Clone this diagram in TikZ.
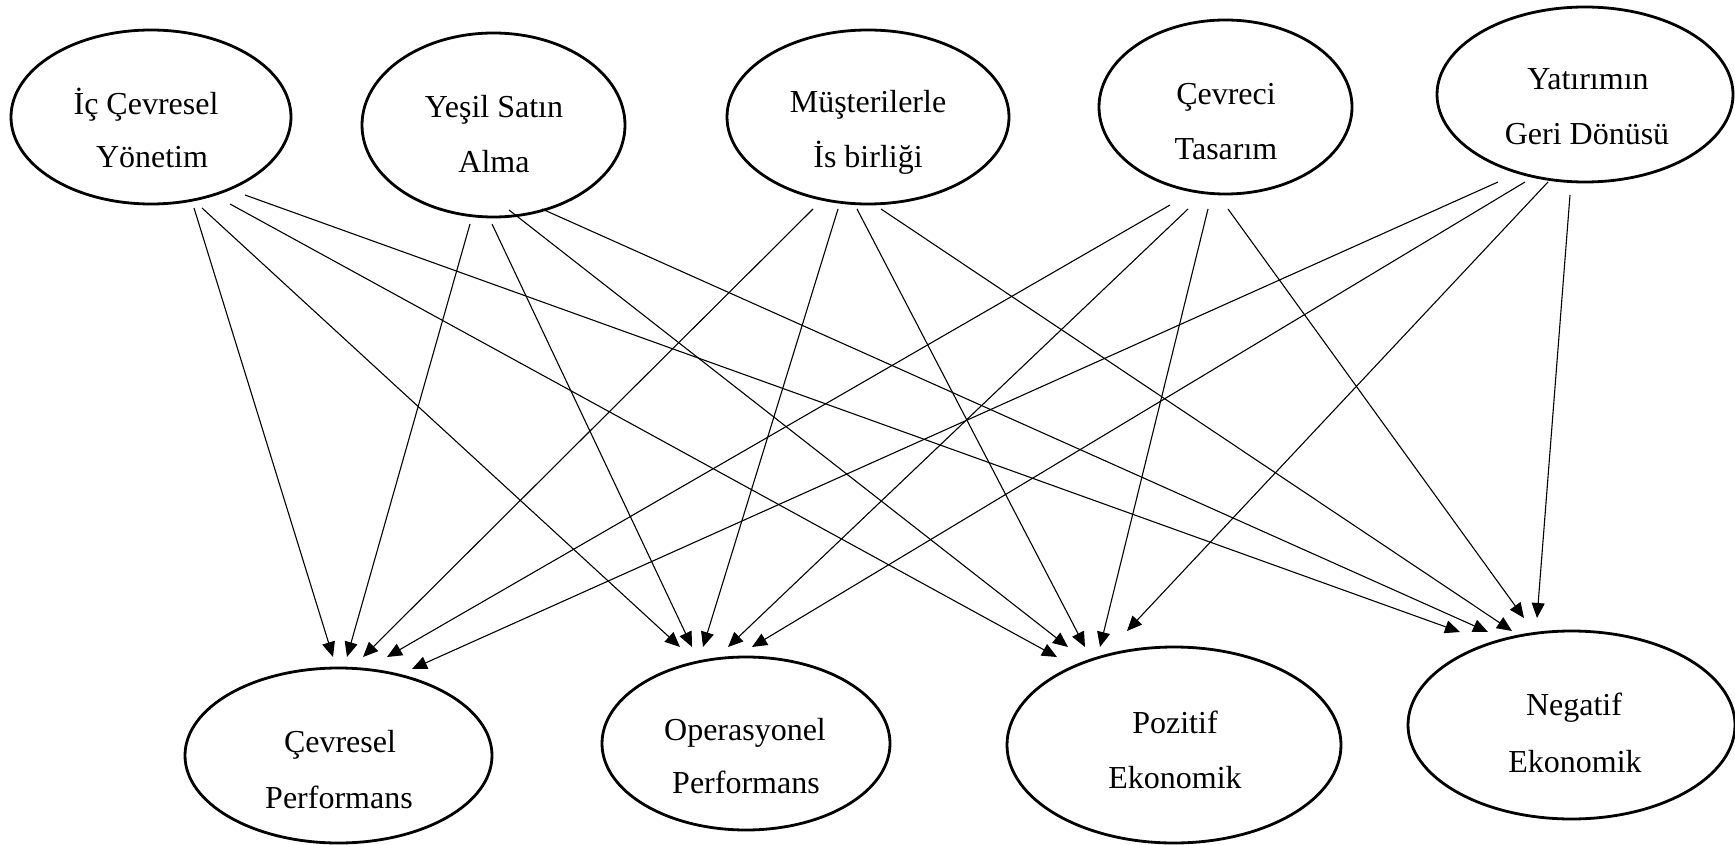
\documentclass[tikz,border=0pt]{standalone}
\usepackage{fontspec}
\setmainfont{Liberation Serif}
\usetikzlibrary{shapes.geometric,arrows.meta}

\tikzset{
  oval/.style={ellipse, draw, line width=2.8pt, inner sep=0pt},
  lbl/.style={anchor=base, inner sep=0pt, font=\fontsize{32}{38}\selectfont},
  link/.style={line width=1.1pt, -{Triangle[length=15pt,width=13pt]}}
}

\begin{document}
\begin{tikzpicture}[x=1pt, y=-1pt]
\useasboundingbox (0,0) rectangle (1735,845);

% ---- upper row: practices ----
\node[oval, minimum width=280, minimum height=174] (ic) at (151,117) {};
\node[lbl] (ic-a) at (146,115) {İç Çevresel};
\node[lbl] (ic-b) at (152,168) {Yönetim};

\node[oval, minimum width=263, minimum height=184] (ys) at (493.5,125) {};
\node[lbl] (ys-a) at (494,118) {Yeşil Satın};
\node[lbl] (ys-b) at (494,173) {Alma};

\node[oval, minimum width=282, minimum height=174] (mi) at (868,117) {};
\node[lbl] (mi-a) at (868,113) {Müşterilerle};
\node[lbl] (mi-b) at (868,168) {İs birliği};

\node[oval, minimum width=253, minimum height=174] (ct) at (1225.5,107) {};
\node[lbl] (ct-a) at (1226,105) {Çevreci};
\node[lbl] (ct-b) at (1226,160) {Tasarım};

\node[oval, minimum width=296, minimum height=175] (yg) at (1585,94.5) {};
\node[lbl] (yg-a) at (1588,90) {Yatırımın};
\node[lbl] (yg-b) at (1587,145) {Geri Dönüsü};

% ---- lower row: outcomes ----
\node[oval, minimum width=307, minimum height=175] (cp) at (338.5,755.5) {};
\node[lbl] (cp-a) at (340,752) {Çevresel};
\node[lbl] (cp-b) at (339,808) {Performans};

\node[oval, minimum width=288, minimum height=173] (op) at (746,743.5) {};
\node[lbl] (op-a) at (745,740) {Operasyonel};
\node[lbl] (op-b) at (746,793) {Performans};

\node[oval, minimum width=334, minimum height=196] (pe) at (1174,745) {};
\node[lbl] (pe-a) at (1175,733) {Pozitif};
\node[lbl] (pe-b) at (1175,788) {Ekonomik};

\node[oval, minimum width=327, minimum height=188] (ne) at (1571.5,725) {};
\node[lbl] (ne-a) at (1574,715) {Negatif};
\node[lbl] (ne-b) at (1575,772) {Ekonomik};

% ---- connector ends below the practices ----
\coordinate (ic1) at (194,208);  \coordinate (ic2) at (202,208);
\coordinate (ic3) at (230,204);  \coordinate (ic4) at (245,195);
\coordinate (ys1) at (470,224);  \coordinate (ys2) at (492,224);
\coordinate (ys3) at (509,210);  \coordinate (ys4) at (542,209);
\coordinate (mi1) at (813,209);  \coordinate (mi2) at (838,209);
\coordinate (mi3) at (857,209);  \coordinate (mi4) at (881,209);
\coordinate (ct1) at (1170,205); \coordinate (ct2) at (1188,209);
\coordinate (ct3) at (1208,209); \coordinate (ct4) at (1228,209);
\coordinate (yg1) at (1498,182); \coordinate (yg2) at (1525,182);
\coordinate (yg3) at (1548,182); \coordinate (yg4) at (1570,195);

% ---- arrow tips above the outcomes ----
\coordinate (cp1) at (333,657);  \coordinate (cp2) at (347,657);
\coordinate (cp3) at (363,657);  \coordinate (cp4) at (387,657);
\coordinate (cp5) at (412,669);
\coordinate (op1) at (680,647);  \coordinate (op2) at (692,647);
\coordinate (op3) at (703,647);  \coordinate (op4) at (728,647);
\coordinate (op5) at (752,647);
\coordinate (pe1) at (1057,657); \coordinate (pe2) at (1068,647);
\coordinate (pe3) at (1085,647); \coordinate (pe4) at (1100,647);
\coordinate (pe5) at (1127,631);
\coordinate (ne1) at (1460,632); \coordinate (ne2) at (1488,632);
\coordinate (ne3) at (1512,631); \coordinate (ne4) at (1524,618);
\coordinate (ne5) at (1537,618);

% ---- links ----
\draw[link] (ic1) -- (cp1);
\draw[link] (ic2) -- (op1);
\draw[link] (ic3) -- (pe1);
\draw[link] (ic4) -- (ne1);

\draw[link] (ys1) -- (cp2);
\draw[link] (ys2) -- (op2);
\draw[link] (ys3) -- (pe2);
\draw[link] (ys4) -- (ne2);

\draw[link] (mi1) -- (cp3);
\draw[link] (mi2) -- (op3);
\draw[link] (mi3) -- (pe3);
\draw[link] (mi4) -- (ne3);

\draw[link] (ct1) -- (cp4);
\draw[link] (ct2) -- (op4);
\draw[link] (ct3) -- (pe4);
\draw[link] (ct4) -- (ne4);

\draw[link] (yg1) -- (cp5);
\draw[link] (yg2) -- (op5);
\draw[link] (yg3) -- (pe5);
\draw[link] (yg4) -- (ne5);
\end{tikzpicture}
\end{document}
